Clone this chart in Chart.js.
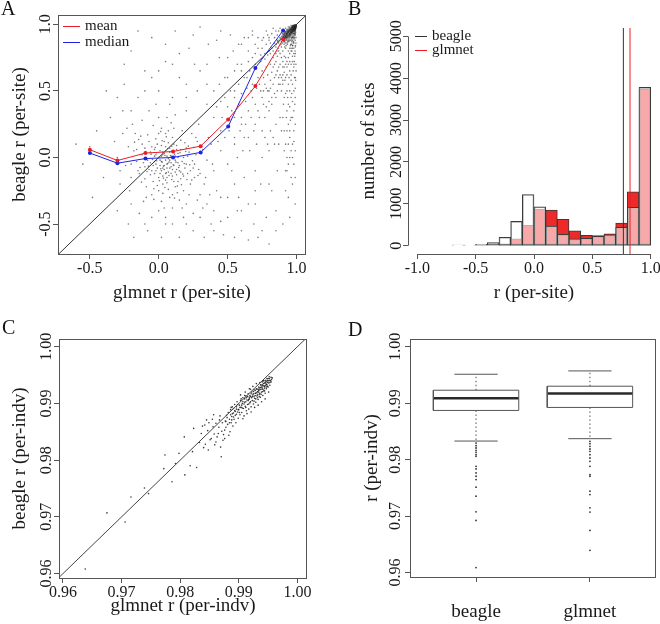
<!DOCTYPE html>
<html><head><meta charset="utf-8">
<script src="https://cdn.jsdelivr.net/npm/chart.js@4.4.0/dist/chart.umd.min.js"></script>
<style>
html,body{margin:0;padding:0;background:#fff;}
#wrap{position:relative;width:660px;height:624px;overflow:hidden;background:#fff;}
.panel{position:absolute;width:330px;height:312px;}
.panel canvas{display:block;}
.lab{position:absolute;font-family:"Liberation Serif","Times New Roman",serif;font-size:20px;line-height:20px;color:#111;}
</style></head><body>
<div id="wrap">
  <div class="panel" style="left:0;top:0"><canvas id="cA" width="330" height="312"></canvas></div>
  <div class="panel" style="left:330px;top:0"><canvas id="cB" width="330" height="312"></canvas></div>
  <div class="panel" style="left:0;top:312px"><canvas id="cC" width="330" height="312"></canvas></div>
  <div class="panel" style="left:330px;top:312px"><canvas id="cD" width="330" height="312"></canvas></div>
  <div class="lab" style="left:1px;top:-2px">A</div>
  <div class="lab" style="left:348px;top:-2px">B</div>
  <div class="lab" style="left:2px;top:317px">C</div>
  <div class="lab" style="left:348px;top:319px">D</div>
</div>
<script>
// ---------------- Panel A: per-site r, glmnet vs beagle ----------------
const perSiteBinX    = [-0.499, -0.299, -0.096, 0.104, 0.304, 0.504, 0.701, 0.902];
const perSiteMean    = [0.058, -0.023, 0.033, 0.045, 0.085, 0.286, 0.536, 0.887];
const perSiteMedian  = [0.033, -0.043, -0.008, 0.000, 0.038, 0.233, 0.672, 0.953];
const perSiteTicks   = [-0.5, 0.0, 0.5, 1.0];
const perSiteLegend  = ['mean', 'median'];
// glmnet r, beagle r per site (sampled from the cloud)
const perSitePairs = [
[-0.02,-0.05],[0.03,0.02],[0.08,-0.08],[-0.06,0.04],[0.12,-0.02],[0.01,-0.12],[-0.1,-0.07],[0.05,0.08],[0.15,-0.1],[-0.04,-0.18],
[0.1,0.05],[0.18,0.0],[-0.12,0.02],[0.06,-0.15],[0.0,0.0],[0.02,-0.03],[0.07,-0.01],[-0.03,0.06],[0.11,-0.06],[0.04,-0.09],
[-0.08,-0.02],[0.14,0.03],[0.09,-0.12],[-0.01,0.1],[0.2,-0.05],[-0.15,-0.1],[0.03,-0.2],[0.13,0.09],[0.22,0.04],[-0.07,0.12],
[0.16,-0.16],[0.25,-0.08],[-0.18,0.05],[0.0,-0.25],[0.1,0.15],[0.19,0.11],[-0.05,-0.28],[0.27,0.02],[0.12,-0.22],[-0.2,-0.15],
[0.05,0.18],[0.3,-0.12],[-0.13,0.16],[0.23,-0.2],[0.08,-0.3],[-0.09,-0.22],[0.17,0.2],[-0.22,0.08],[0.32,0.06],[0.02,0.22],
[0.06,-0.05],[0.04,0.03],[-0.01,-0.08],[0.09,0.01],[0.03,-0.14],[-0.05,-0.1],[0.13,-0.13],[0.07,0.11],[-0.1,0.07],[0.16,0.06],
[0.11,-0.18],[0.01,0.05],[-0.03,-0.03],[0.05,-0.02],[0.08,0.04],[0.1,-0.09],[-0.06,-0.13],[0.14,-0.04],[0.02,-0.1],[-0.02,0.14],
[0.21,-0.12],[0.18,-0.25],[0.26,-0.15],[0.28,0.12],[-0.16,-0.03],[-0.24,-0.06],[0.35,-0.02],[0.33,-0.2],[0.24,0.18],[0.15,-0.32],
[-0.11,-0.33],[0.04,-0.38],[0.2,-0.35],[-0.26,0.18],[-0.19,0.25],[0.0,0.3],[0.09,0.26],[0.38,0.1],[0.4,-0.1],[0.37,-0.28],
[-0.28,-0.2],[-0.3,0.0],[0.12,0.32],[0.29,0.25],[0.45,0.05],[0.05,-0.45],[-0.14,-0.42],[0.25,-0.42],[0.42,-0.25],[-0.07,0.35],
[0.035,-0.065],[0.075,-0.035],[-0.045,-0.015],[0.115,0.025],[0.055,-0.115],[-0.015,0.035],[0.145,-0.075],[0.095,-0.165],[-0.085,-0.105],[0.025,0.125],
[0.185,-0.045],[0.065,0.065],[-0.035,-0.235],[0.135,-0.265],[0.215,0.085],[-0.125,-0.185],[0.245,-0.025],[0.005,-0.175],[0.165,-0.205],[-0.175,0.115],
[0.01,-0.02],[0.04,-0.06],[0.06,0.01],[-0.02,0.02],[0.09,-0.04],[0.03,-0.08],[-0.04,-0.06],[0.07,-0.11],[0.12,0.01],[0.0,-0.15],
[0.05,0.05],[-0.07,-0.09],[0.1,-0.14],[0.15,-0.06],[0.02,0.09],[-0.09,0.0],[0.13,-0.09],[0.06,-0.19],[-0.03,-0.12],[0.17,-0.03],
[0.08,0.07],[-0.11,-0.04],[0.04,0.12],[0.19,-0.08],[-0.01,-0.21],[0.11,0.1],[0.14,-0.18],[-0.05,0.08],[0.21,0.01],[0.07,-0.24],
[-0.14,-0.12],[0.16,0.13],[0.23,-0.1],[-0.08,0.17],[0.03,-0.27],[0.18,-0.14],[-0.16,0.06],[0.26,-0.05],[0.1,-0.28],[0.0,0.18],
[0.09,-0.07],[0.05,-0.12],[0.02,0.01],[-0.02,-0.1],[0.12,-0.11],[0.08,-0.02],[-0.06,-0.04],[0.14,0.0],[0.03,0.04],[0.06,-0.08],
[0.11,0.04],[-0.03,0.01],[0.01,-0.06],[0.16,-0.11],[0.05,-0.17],[-0.1,-0.16],[0.2,0.07],[0.13,0.06],[-0.12,0.1],[0.24,-0.17],
[0.29,-0.09],[0.31,0.03],[0.22,-0.28],[0.07,0.2],[-0.2,-0.05],[-0.17,0.18],[0.27,0.15],[0.34,-0.15],[-0.04,0.24],[0.17,-0.38],
[-0.21,-0.25],[0.36,0.15],[0.11,0.22],[0.39,-0.05],[0.02,-0.33],[-0.09,-0.3],[0.28,-0.32],[-0.23,0.22],[0.43,0.12],[0.06,0.3],
[0.065,-0.045],[0.025,-0.035],[0.085,0.015],[-0.015,-0.025],[0.105,-0.055],[0.045,0.015],[-0.055,0.025],[0.125,-0.035],[0.015,-0.085],[0.075,-0.135],
[0.155,0.035],[-0.025,0.075],[0.035,-0.155],[0.095,0.085],[0.175,-0.125],[-0.075,-0.065],[0.195,0.045],[-0.095,0.045],[0.055,0.155],[0.135,-0.215],
[0.225,-0.055],[-0.135,-0.075],[0.255,0.075],[0.015,0.195],[0.045,-0.225],[0.205,-0.165],[-0.145,0.135],[0.285,-0.135],[0.115,-0.305],[-0.035,-0.315],
[-0.35,0.3],[-0.3,-0.4],[-0.25,0.55],[-0.22,-0.5],[-0.2,0.8],[-0.18,-0.6],[-0.15,0.45],[-0.1,0.65],[-0.08,-0.55],[-0.05,0.9],
[0.0,0.5],[0.02,-0.6],[0.05,0.72],[0.08,0.4],[0.1,-0.5],[0.12,0.95],[0.15,0.6],[0.18,-0.45],[0.2,0.35],[0.22,0.82],
[0.25,-0.55],[0.28,0.5],[0.3,0.98],[0.32,-0.38],[0.35,0.7],[0.38,-0.5],[0.4,0.3],[0.42,0.88],[0.45,-0.3],[0.48,0.6],
[0.5,-0.45],[0.52,0.92],[0.55,-0.2],[0.58,0.4],[0.6,-0.55],[0.62,0.15],[0.65,-0.35],[0.68,0.95],[0.7,-0.1],[0.72,-0.6],
[0.75,0.2],[0.78,-0.45],[0.8,0.05],[0.82,-0.25],[0.85,-0.55],[0.88,0.3],[-0.32,0.12],[-0.28,-0.1],[-0.26,0.35],[-0.4,-0.15],
[-0.45,0.2],[-0.5,0.08],[-0.55,-0.05],[-0.48,-0.3],[-0.38,0.5],[-0.6,0.1],[-0.12,0.28],[0.35,0.4],[0.45,0.2],[0.5,-0.05],
[0.55,0.1],[0.6,0.3],[0.62,-0.15],[0.4,-0.4],[0.3,-0.28],[0.48,0.15],[0.58,-0.3],[0.66,0.05],[0.7,0.25],[0.74,-0.2],
[0.76,0.5],[0.8,0.35],[0.84,0.1],[0.86,-0.1],[0.2,0.55],[0.1,0.45],[-0.02,0.4],[0.26,0.7],[0.36,0.85],[0.44,0.75],
[0.54,0.8],[0.64,0.6],[0.05,-0.5],[0.15,-0.6],[0.33,-0.6],[0.47,-0.58],[0.57,-0.4],[0.69,-0.5],[0.8,-0.65],[-0.05,-0.45],
[-0.25,0.7],[-0.15,0.95],[-0.05,0.6],[0.05,0.85],[0.15,0.78],[0.25,0.92],[0.35,0.55],[0.45,0.95],[0.55,0.5],[0.65,0.9],
[-0.3,0.45],[-0.2,0.35],[-0.1,0.5],[0.0,0.65],[0.1,0.7],[0.2,0.45],[0.3,0.65],[0.4,0.5],[0.5,0.75],[0.6,0.85],
[-0.2,-0.35],[-0.1,-0.5],[0.0,-0.4],[0.1,-0.38],[0.2,-0.5],[0.3,-0.45],[0.4,-0.55],[0.5,-0.3],[0.6,-0.4],[0.7,-0.35],
[0.75,-0.55],[0.65,-0.62],[0.55,-0.6],[0.45,-0.48],[0.35,-0.35],[0.85,-0.4],[0.9,-0.5],[0.95,-0.45],[0.8,-0.2],[0.7,-0.25],
[0.45,0.42],[0.5,0.38],[0.52,0.5],[0.55,0.45],[0.58,0.55],[0.6,0.48],[0.62,0.6],[0.64,0.52],[0.66,0.65],[0.68,0.55],
[0.7,0.7],[0.72,0.6],[0.74,0.72],[0.75,0.65],[0.77,0.78],[0.78,0.68],[0.8,0.8],[0.81,0.7],[0.82,0.82],[0.83,0.75],
[0.84,0.86],[0.85,0.78],[0.86,0.88],[0.87,0.8],[0.88,0.9],[0.89,0.83],[0.6,0.7],[0.65,0.8],[0.7,0.85],[0.72,0.9],
[0.75,0.88],[0.78,0.95],[0.8,0.9],[0.55,0.65],[0.5,0.6],[0.62,0.9],[0.58,0.85],[0.68,0.92],[0.7,0.4],[0.72,0.35],
[0.75,0.45],[0.77,0.3],[0.8,0.5],[0.82,0.4],[0.84,0.6],[0.85,0.45],[0.86,0.65],[0.87,0.55],[0.88,0.7],[0.89,0.5],
[0.65,0.35],[0.6,0.25],[0.55,0.3],[0.68,0.45],[0.73,0.55],[0.76,0.6],[0.79,0.62],[0.81,0.58],[0.83,0.68],[0.85,0.72],
[0.86,0.76],[0.87,0.68],[0.88,0.78],[0.89,0.75],[0.9,0.8],[0.63,0.42],[0.67,0.5],[0.71,0.52],[0.74,0.5],[0.78,0.52],
[0.82,0.64],[0.84,0.7],[0.88,0.62],[0.9,0.68],[0.9,0.72],[0.91,0.76],[0.57,0.7],[0.53,0.35],[0.48,0.45],[0.46,0.3],
[0.44,0.55],[0.42,0.38],
[0.95,0.78],[0.94,0.75],[0.93,0.72],[0.92,0.7],[0.91,0.64],[0.9,0.58],[0.89,0.6],[0.88,0.55],[0.87,0.6],[0.86,0.5],
[0.85,0.62],[0.84,0.48],[0.83,0.55],[0.82,0.45],[0.81,0.52],[0.8,0.42],[0.79,0.5],[0.78,0.38],[0.77,0.55],[0.76,0.4],
[0.96,0.45],[0.95,0.2],[0.94,0.1],[0.93,0.0],[0.92,-0.1],[0.97,0.0],[0.98,0.12],[0.99,-0.15],[0.96,0.05],[0.94,-0.05],
[0.89,0.2],[0.87,0.1],[0.85,0.25],[0.83,0.15],[0.81,0.2],[0.79,0.1],[0.77,0.15],[0.75,0.0],[0.73,0.3],[0.71,0.1],
[0.69,0.2],[0.67,0.3],[0.65,0.15],[0.63,0.25],[0.61,0.05],[0.59,0.2],[0.57,0.0],[0.55,0.15],[0.53,-0.1],[0.51,0.2],
[0.92,0.6],[0.93,0.5],[0.94,0.4],[0.95,0.65],[0.96,0.3],[0.97,0.55],[0.98,0.2],[0.99,0.45],[0.92,0.1],[0.93,-0.1],
[0.94,0.25],[0.95,0.0],[0.96,0.7],[0.97,-0.2],[0.98,0.35],[0.99,0.6],[0.92,0.75],[0.93,0.68],[0.94,0.8],[0.95,0.72],
[0.96,0.82],[0.97,0.76],[0.98,0.68],[0.99,0.78],[0.91,0.45],[0.9,0.3],[0.91,0.2],[0.9,0.55],[0.93,0.35],[0.95,0.15],
[0.97,0.1],[0.99,0.05],[0.98,-0.05],[0.96,-0.15],[0.94,-0.3],[0.92,-0.25],[0.99,-0.35],[0.97,0.42],[0.95,0.5],[0.93,0.62],
[0.91,0.68],[0.98,0.5],[0.96,0.58],[0.94,0.55],[0.92,0.48],[0.99,0.25],[0.97,0.3],[0.95,0.38],[0.93,0.2],[0.91,0.05],
[0.98,0.82],[0.96,0.85],[0.94,0.7],[0.92,0.82],[0.9,0.62],[0.995,0.7],[0.985,0.6],[0.975,0.65],[0.965,0.48],[0.955,0.28],
[0.945,0.6],[0.935,0.45],[0.925,0.3],[0.915,0.58],[0.905,0.4],
[0.99,0.99],[0.985,0.98],[0.98,0.985],[0.975,0.97],[0.97,0.975],[0.965,0.96],[0.96,0.965],[0.955,0.95],[0.95,0.955],[0.945,0.94],
[0.94,0.945],[0.935,0.93],[0.93,0.925],[0.925,0.93],[0.92,0.91],[0.915,0.92],[0.91,0.9],[0.905,0.91],[0.9,0.89],[0.895,0.9],
[0.99,0.97],[0.985,0.96],[0.98,0.95],[0.975,0.945],[0.97,0.94],[0.965,0.93],[0.96,0.92],[0.955,0.915],[0.95,0.9],[0.945,0.89],
[0.94,0.88],[0.935,0.87],[0.93,0.86],[0.99,0.95],[0.985,0.93],[0.98,0.91],[0.975,0.9],[0.97,0.88],[0.965,0.87],[0.96,0.85],
[0.955,0.84],[0.95,0.82],[0.992,0.99],[0.988,0.975],[0.983,0.99],[0.978,0.98],[0.972,0.985],[0.968,0.955],[0.962,0.975],[0.957,0.94],
[0.952,0.965],[0.947,0.925],[0.942,0.955],[0.937,0.91],[0.932,0.945],[0.927,0.9],[0.922,0.94],[0.917,0.88],[0.912,0.93],[0.907,0.87],
[0.902,0.92],[0.897,0.86],[0.892,0.91],[0.887,0.85],[0.882,0.89],[0.877,0.84],[0.872,0.88],[0.867,0.82],[0.862,0.87],[0.857,0.8],
[0.852,0.85],[0.994,0.985],[0.991,0.98],[0.987,0.99],[0.982,0.975],[0.979,0.965],[0.974,0.98],[0.971,0.96],[0.966,0.97],[0.963,0.95],
[0.958,0.96],[0.953,0.935],[0.948,0.95],[0.943,0.92],[0.938,0.94],[0.933,0.9],[0.928,0.92],[0.923,0.89],[0.918,0.905],[0.913,0.87],
[0.908,0.89],[0.996,0.995],[0.993,0.975],[0.989,0.965],[0.984,0.97],[0.981,0.96],[0.976,0.955],[0.973,0.93],[0.969,0.965],[0.964,0.94],
[0.959,0.905],[0.954,0.925],[0.949,0.91],[0.944,0.87],[0.939,0.9],[0.934,0.85],[0.929,0.88],[0.924,0.84],[0.919,0.86],[0.914,0.83],
[0.909,0.85],[0.8,0.88],[0.82,0.93],[0.85,0.95],[0.88,0.97],[0.9,0.96],[0.86,0.92],[0.84,0.9],[0.78,0.85],[0.75,0.82],
[0.83,0.97],[0.87,0.95],[0.89,0.94],[0.92,0.97],[0.94,0.98],[0.96,0.99],[0.91,0.95],[0.93,0.96],[0.95,0.98],[0.97,0.99],
[0.98,0.995],[0.7,0.78],[0.72,0.82],[0.76,0.9],[0.79,0.92],[0.81,0.86],[0.65,0.72],[0.68,0.75],[0.6,0.65],[0.74,0.77],
[0.77,0.74],[0.79,0.77],[0.81,0.78],[0.83,0.8],[0.85,0.83],[0.87,0.86],[0.89,0.87],[0.91,0.88],[0.93,0.89],[0.95,0.88],
[0.97,0.9],[0.99,0.92],[0.99,0.88],[0.98,0.86],[0.97,0.84],[0.96,0.8],[0.99,0.83],[0.98,0.78],[0.97,0.72],[0.96,0.62],
[0.995,0.9],[0.986,0.972],[0.977,0.962],[0.968,0.948],[0.959,0.938],[0.951,0.928],[0.942,0.912],[0.933,0.915],[0.924,0.905],[0.915,0.895],
[0.997,0.993],[0.995,0.988],[0.993,0.982],[0.991,0.994],[0.989,0.985],[0.987,0.978],[0.985,0.99],[0.983,0.97],[0.981,0.983],[0.979,0.975],
[0.977,0.988],[0.975,0.96],[0.973,0.978],[0.971,0.95],[0.969,0.97],[0.967,0.945],[0.965,0.98],[0.963,0.935],[0.961,0.955],[0.959,0.97],
[0.957,0.925],[0.955,0.962],[0.953,0.945],[0.951,0.972],[0.949,0.93],[0.947,0.96],[0.945,0.915],[0.943,0.95],[0.941,0.935],[0.939,0.965],
[0.937,0.925],[0.935,0.955],[0.933,0.94],[0.931,0.91],[0.929,0.935],[0.927,0.95],[0.925,0.915],[0.923,0.93],[0.921,0.9],[0.919,0.945],
[0.917,0.91],[0.915,0.935],[0.913,0.895],[0.911,0.92],[0.909,0.94],[0.907,0.9],[0.905,0.925],[0.903,0.885],[0.901,0.91],[0.899,0.93],
[0.996,0.98],[0.994,0.97],[0.992,0.96],[0.99,0.975],[0.988,0.955],[0.986,0.945],[0.984,0.985],[0.982,0.94],[0.98,0.965],[0.978,0.93],
[0.976,0.985],[0.974,0.92],[0.972,0.955],[0.97,0.91],[0.968,0.98],[0.966,0.9],[0.964,0.96],[0.962,0.89],[0.96,0.94],[0.958,0.88],
[0.998,0.997],[0.997,0.985],[0.995,0.975],[0.993,0.99],[0.99,0.96],[0.988,0.995],[0.986,0.965],[0.983,0.955],[0.98,0.975],[0.977,0.95],
[0.993,0.94],[0.99,0.93],[0.987,0.92],[0.984,0.9],[0.981,0.89],[0.978,0.87],[0.975,0.86],[0.972,0.84],[0.969,0.82],[0.966,0.8],
[0.995,0.86],[0.992,0.84],[0.989,0.8],[0.986,0.76],[0.983,0.72],[0.98,0.7],[0.996,0.65],[0.993,0.58],[0.99,0.52],[0.987,0.4]
];

// ---------------- Panel B: histogram of per-site r ----------------
const histBinCenters = [-0.65,-0.55,-0.45,-0.35,-0.25,-0.15,-0.05,0.05,0.15,0.25,0.35,0.45,0.55,0.65,0.75,0.85,0.95];
const histBeagle     = [8, 15, 30, 70, 200, 580, 1222, 929, 468, 270, 160, 177, 225, 256, 440, 918, 3780];
const histGlmnet     = [null, null, null, null, 8, 160, 484, 873, 849, 627, 352, 249, 240, 280, 536, 1285, 3742];
const histXTicks     = [-1.0, -0.5, 0.0, 0.5, 1.0];
const histYTicks     = [0, 1000, 2000, 3000, 4000, 5000];
const histSeries     = ['beagle', 'glmnet'];
const histRefLines   = [0.766, 0.823];   // vertical lines: beagle, glmnet

// ---------------- Panel C: per-individual r ----------------
const perIndvTicks = [0.96, 0.97, 0.98, 0.99, 1.00];
// glmnet r, beagle r per individual
const perIndvPairs = [
[0.9638,0.9608],[0.9675,0.9707],[0.9706,0.9691],[0.9716,0.9735],[0.9739,0.9751],[0.9746,0.9741],[0.9772,0.9785],[0.9774,0.9809],
[0.9786,0.9762],[0.9792,0.9794],[0.9798,0.9812],[0.9807,0.9841],[0.9808,0.9774],[0.9817,0.9790],[0.9821,0.9815],[0.9823,0.9856],
[0.9828,0.9787],[0.9833,0.9831],[0.9836,0.9847],[0.9840,0.9822],[0.9845,0.9871],[0.9848,0.9818],[0.9853,0.9838],[0.9856,0.9859],
[0.9859,0.9827],[0.9865,0.9847],[0.9867,0.9871],[0.9870,0.9806],[0.9873,0.9835],[0.9876,0.9853],[0.9879,0.9879],
[0.9842,0.9862],[0.9847,0.9852],[0.9851,0.9836],[0.9855,0.9872],[0.9858,0.9846],[0.9861,0.9865],[0.9863,0.9841],[0.9866,0.9858],
[0.9868,0.9878],[0.9871,0.9851],[0.9872,0.9866],[0.9874,0.9845],[0.9877,0.9869],[0.9878,0.9858],[0.9881,0.9863],[0.9882,0.9884],
[0.9884,0.9872],[0.9885,0.9850],[0.9886,0.9889],[0.9887,0.9866],[0.9888,0.9877],[0.9889,0.9894],[0.9890,0.9860],[0.9891,0.9883],
[0.9892,0.9872],[0.9893,0.9898],[0.9894,0.9879],[0.9895,0.9866],[0.9896,0.9890],[0.9897,0.9903],[0.9898,0.9885],[0.9899,0.9874],
[0.9861,0.9832],[0.9869,0.9823],[0.9876,0.9838],[0.9883,0.9844],[0.9857,0.9880],[0.9849,0.9866],[0.9843,0.9828],[0.9838,0.9860],
[0.9900,0.9889],[0.9901,0.9897],[0.9902,0.9880],[0.9903,0.9905],[0.9904,0.9893],[0.9905,0.9884],[0.9906,0.9900],[0.9907,0.9910],
[0.9908,0.9891],[0.9909,0.9878],[0.9910,0.9902],[0.9911,0.9895],[0.9912,0.9913],[0.9913,0.9887],[0.9914,0.9906],[0.9915,0.9898],
[0.9916,0.9917],[0.9917,0.9890],[0.9918,0.9908],[0.9919,0.9901],[0.9920,0.9912],[0.9921,0.9894],[0.9922,0.9920],[0.9923,0.9905],
[0.9924,0.9915],[0.9925,0.9899],[0.9926,0.9924],[0.9927,0.9909],[0.9928,0.9918],[0.9929,0.9902],[0.9930,0.9926],[0.9931,0.9913],
[0.9932,0.9921],[0.9933,0.9907],[0.9934,0.9929],[0.9935,0.9916],[0.9936,0.9924],[0.9937,0.9911],[0.9938,0.9932],[0.9939,0.9920],
[0.9940,0.9927],[0.9941,0.9914],[0.9942,0.9935],[0.9943,0.9923],[0.9944,0.9930],[0.9945,0.9918],[0.9946,0.9938],[0.9947,0.9926],
[0.9948,0.9933],[0.9949,0.9941],[0.9950,0.9929],[0.9951,0.9936],[0.9952,0.9944],[0.9953,0.9932],[0.9954,0.9940],[0.9955,0.9946],
[0.9903,0.9915],[0.9907,0.9873],[0.9911,0.9920],[0.9914,0.9882],[0.9918,0.9926],[0.9921,0.9885],[0.9924,0.9930],[0.9927,0.9893],
[0.9930,0.9935],[0.9933,0.9897],[0.9936,0.9937],[0.9939,0.9903],[0.9942,0.9940],[0.9945,0.9908],[0.9948,0.9944],[0.9951,0.9920],
[0.9926,0.9912],[0.9929,0.9918],[0.9932,0.9915],[0.9935,0.9927],[0.9938,0.9925],[0.9941,0.9931],[0.9944,0.9936],[0.9947,0.9934],
[0.9922,0.9910],[0.9919,0.9914],[0.9916,0.9905],[0.9913,0.9910],[0.9910,0.9908],[0.9925,0.9921],[0.9928,0.9923],[0.9931,0.9925],
[0.9934,0.9920],[0.9937,0.9928],[0.9940,0.9933],[0.9943,0.9931],[0.9946,0.9941],[0.9949,0.9937],[0.9952,0.9947],[0.9956,0.9942],
[0.9920,0.9925],[0.9917,0.9899],[0.9912,0.9893],[0.9909,0.9899],[0.9906,0.9892],[0.9904,0.9908],[0.9901,0.9884],[0.9898,0.9898],
[0.9896,0.9881],[0.9893,0.9887],[0.9891,0.9876],[0.9889,0.9882],[0.9887,0.9893],
[0.9931,0.9919],[0.9934,0.9923],[0.9936,0.9918],[0.9939,0.9929],[0.9941,0.9925],[0.9944,0.9927],[0.9946,0.9932],[0.9949,0.9930],[0.9951,0.9940],[0.9953,0.9937],
[0.9928,0.9914],[0.9925,0.9917],[0.9923,0.9912],[0.9921,0.9917],[0.9918,0.9911],[0.9915,0.9912],[0.9912,0.9903],[0.9910,0.9914],[0.9907,0.9903],[0.9905,0.9897],
[0.9933,0.9925],[0.9937,0.9933],[0.9940,0.9938],[0.9943,0.9940],[0.9945,0.9936],[0.9948,0.9939],[0.9950,0.9944],[0.9953,0.9941],[0.9955,0.9938],[0.9957,0.9945],
[0.9926,0.9904],[0.9929,0.9908],[0.9932,0.9910],[0.9935,0.9912],[0.9938,0.9916],[0.9941,0.9921],[0.9944,0.9922],[0.9947,0.9929],[0.9920,0.9903],[0.9917,0.9907],
[0.9902,0.9893],[0.9899,0.9889],[0.9896,0.9894],[0.9894,0.9886],[0.9891,0.9891],[0.9888,0.9871],[0.9886,0.9880],[0.9884,0.9866],[0.9880,0.9875],[0.9878,0.9868]
];

// ---------------- Panel D: boxplots of per-individual r ----------------
const boxGroups       = ['beagle', 'glmnet'];
const boxWhiskerLow   = [0.98329, 0.98371];
const boxQ1           = [0.98871, 0.98924];
const boxMedian       = [0.99088, 0.99171];
const boxQ3           = [0.99229, 0.99300];
const boxWhiskerHigh  = [0.99512, 0.99571];
const boxOutliers     = [
  [0.98294,0.98247,0.98206,0.98165,0.98129,0.98088,0.98059,0.97882,0.97835,0.97765,0.97706,0.97647,0.97512,0.97353,0.97076,0.96924,0.96088],
  [0.98324,0.98282,0.98235,0.98188,0.98147,0.98088,0.98029,0.97971,0.97882,0.97735,0.97706,0.97441,0.97382,0.97147,0.97071,0.96747,0.96394]
];

// ---------------- shared styling ----------------
const SERIF = "'Liberation Serif','Times New Roman',serif";
const INK = '#1a1a1a';
const AXIS = '#555';
const RED = 'rgb(232,30,36)';
const BLUE = 'rgb(30,34,226)';
Chart.defaults.font.family = SERIF;
Chart.defaults.color = INK;
Chart.defaults.animation = false;
Chart.defaults.events = [];
Chart.defaults.plugins.legend.display = false;
Chart.defaults.plugins.tooltip.enabled = false;

const fmt1 = v => v.toFixed(1);
const fmt2 = v => v.toFixed(2);

function fixedTicks(vals) { return s => { s.ticks = vals.map(v => ({ value: v })); }; }
function fitY(w) { return s => { s.width = w; s.paddingTop = 0; s.paddingBottom = 0; s.paddingLeft = 0; s.paddingRight = 0; }; }
function fitX(h) { return s => { s.height = h; s.paddingTop = 0; s.paddingBottom = 0; s.paddingLeft = 0; s.paddingRight = 0; }; }

function xAxis(o) {
  return {
    type: 'linear', position: 'bottom', min: o.min, max: o.max, offset: false,
    afterBuildTicks: fixedTicks(o.ticks), afterFit: fitX(o.h),
    grid: { display: true, drawOnChartArea: false, drawTicks: true, tickLength: 5, color: AXIS, offset: false },
    border: { display: false },
    ticks: { display: true, autoSkip: false, maxRotation: 0, minRotation: 0, padding: o.pad || 0,
             font: { size: o.fs || 16, lineHeight: 1.2 }, color: INK, callback: o.cb },
    title: o.title ? { display: true, text: o.title, font: { size: 19, lineHeight: 1.2 }, color: INK,
             padding: { top: 0, bottom: o.tpad } } : { display: false }
  };
}
function yAxis(o) {
  return {
    type: 'linear', position: 'left', min: o.min, max: o.max,
    afterBuildTicks: fixedTicks(o.ticks), afterFit: fitY(o.w),
    grid: { display: true, drawOnChartArea: false, drawTicks: true, tickLength: 5, color: AXIS },
    border: { display: false },
    ticks: { display: false },
    title: { display: true, text: o.title, font: { size: 19, lineHeight: 1.2 }, color: INK,
             padding: { top: o.tpad, bottom: 0 } }
  };
}

// R-like decorations: frame, partial axis lines, rotated y tick labels, legend (config kept in closure)
function rStyle(cfg) {
  return {
    id: 'rStyle',
    afterDraw(chart) {
      const { ctx, chartArea: ca, scales } = chart;
      ctx.save();
      ctx.strokeStyle = AXIS; ctx.lineWidth = 1;
      if (cfg.frame) {
        ctx.strokeRect(Math.round(ca.left) + 0.5, Math.round(ca.top) + 0.5,
                       Math.round(ca.right - ca.left) - 1, Math.round(ca.bottom - ca.top));
      }
      if (cfg.axisLines) {
        const xs = scales.x, ys = scales.y, xt = xs.ticks, yt = ys.ticks;
        const by = Math.round(ca.bottom) + 0.5, lx = Math.round(ca.left) + 0.5;
        ctx.beginPath();
        ctx.moveTo(xs.getPixelForValue(xt[0].value), by);
        ctx.lineTo(xs.getPixelForValue(xt[xt.length - 1].value), by);
        ctx.moveTo(lx, ys.getPixelForValue(yt[0].value));
        ctx.lineTo(lx, ys.getPixelForValue(yt[yt.length - 1].value));
        ctx.stroke();
      }
      const ys = scales.y;
      ctx.fillStyle = INK;
      ctx.font = `16px ${SERIF}`;
      ctx.textAlign = 'center'; ctx.textBaseline = 'middle';
      ys.ticks.forEach(t => {
        ctx.save();
        ctx.translate(cfg.yLabelX, ys.getPixelForValue(t.value));
        ctx.rotate(-Math.PI / 2);
        ctx.fillText(cfg.yfmt(t.value), 0, 0);
        ctx.restore();
      });
      if (cfg.legend) {
        const L = cfg.legend;
        ctx.font = `${L.size}px ${SERIF}`;
        ctx.textAlign = 'left'; ctx.textBaseline = 'middle';
        L.labels.forEach((lab, i) => {
          const y = Math.round(L.y0 + i * L.dy) + 0.5;
          ctx.strokeStyle = L.colors[i]; ctx.lineWidth = 1;
          ctx.beginPath(); ctx.moveTo(L.x0, y); ctx.lineTo(L.x1, y); ctx.stroke();
          ctx.fillStyle = INK;
          ctx.fillText(lab, L.tx, y);
        });
      }
      ctx.restore();
    }
  };
}

const lineDs = (data, color, w, extra) => Object.assign({
  data, showLine: true, borderColor: color, borderWidth: w, pointRadius: 0, fill: false, tension: 0
}, extra || {});

// ---------------- Chart A ----------------
{
  const xMin = -0.73, xMax = 1.068, yMin = -0.725, yMax = 1.07;
  new Chart(document.getElementById('cA'), {
    type: 'scatter',
    data: { datasets: [
      { data: perSitePairs.map(p => ({ x: p[0], y: p[1] })), pointRadius: 0.8, pointBorderWidth: 0,
        pointBackgroundColor: 'rgba(30,30,30,0.6)', order: 4 },
      lineDs([{ x: -1, y: -1 }, { x: 1.1, y: 1.1 }], '#333', 1, { order: 3 }),
      lineDs(perSiteBinX.map((x, i) => ({ x, y: perSiteMean[i] })), RED, 1,
        { pointRadius: 2, pointBackgroundColor: RED, pointBorderWidth: 0, order: 1 }),
      lineDs(perSiteBinX.map((x, i) => ({ x, y: perSiteMedian[i] })), BLUE, 1,
        { pointRadius: 2, pointBackgroundColor: BLUE, pointBorderWidth: 0, order: 2 })
    ]},
    options: {
      responsive: false,
      layout: { padding: { left: 0, top: 15, right: 24, bottom: 0 } },
      scales: {
        x: xAxis({ min: xMin, max: xMax, ticks: perSiteTicks, h: 58, cb: v => fmt1(v), title: 'glmnet r (per-site)', tpad: 8 }),
        y: yAxis({ min: yMin, max: yMax, ticks: perSiteTicks, w: 58, title: 'beagle r (per-site)', tpad: 9 })
      }
    },
    plugins: [rStyle({ frame: true, yLabelX: 46, yfmt: fmt1,
      legend: { labels: perSiteLegend, colors: [RED, BLUE], x0: 63, x1: 80, tx: 85, y0: 26, dy: 16, size: 15 } })]
  });
}

// ---------------- Chart B ----------------
{
  new Chart(document.getElementById('cB'), {
    type: 'bar',
    data: { datasets: [
      { type: 'bar', label: histSeries[0], data: histBinCenters.map((x, i) => ({ x, y: histBeagle[i] })),
        backgroundColor: 'rgba(255,255,255,0.6)', borderColor: '#3a3a3a', borderWidth: 1, borderSkipped: false,
        grouped: false, barPercentage: 1, categoryPercentage: 1, order: 1 },
      { type: 'bar', label: histSeries[1], data: histBinCenters.map((x, i) => ({ x, y: histGlmnet[i] })),
        backgroundColor: 'rgb(236,42,42)', borderColor: '#3a3a3a', borderWidth: 1, borderSkipped: false,
        grouped: false, barPercentage: 1, categoryPercentage: 1, order: 2 },
      lineDs([{ x: histRefLines[0], y: -200 }, { x: histRefLines[0], y: 5200 }], '#333', 1, { type: 'line', order: 0 }),
      lineDs([{ x: histRefLines[1], y: -200 }, { x: histRefLines[1], y: 5200 }], RED, 1, { type: 'line', order: 0 })
    ]},
    options: {
      responsive: false,
      layout: { padding: { left: 0, top: 28, right: 0, bottom: 0 } },
      scales: {
        x: xAxis({ min: -1.08, max: 1.08, ticks: histXTicks, h: 58, cb: v => fmt1(v), title: 'r (per-site)', tpad: 8 }),
        y: Object.assign(yAxis({ min: -200, max: 5200, ticks: histYTicks, w: 78, title: 'number of sites', tpad: 28 }), { beginAtZero: false })
      }
    },
    plugins: [rStyle({ frame: false, axisLines: true, yLabelX: 67, yfmt: v => String(v),
      legend: { labels: histSeries, colors: ['#333', RED], x0: 85, x1: 97, tx: 102, y0: 36, dy: 14, size: 15 } })]
  });
}

// ---------------- Chart C ----------------
{
  const xMin = 0.95932, xMax = 1.00164, yMin = 0.95922, yMax = 1.00136;
  new Chart(document.getElementById('cC'), {
    type: 'scatter',
    data: { datasets: [
      { data: perIndvPairs.map(p => ({ x: p[0], y: p[1] })), pointRadius: 0.8, pointBorderWidth: 0,
        pointBackgroundColor: 'rgba(20,20,20,0.85)', order: 2 },
      lineDs([{ x: 0.95, y: 0.95 }, { x: 1.01, y: 1.01 }], '#444', 1, { order: 1 })
    ]},
    options: {
      responsive: false,
      layout: { padding: { left: 0, top: 27, right: 23, bottom: 0 } },
      scales: {
        x: xAxis({ min: xMin, max: xMax, ticks: perIndvTicks, h: 46, cb: v => fmt2(v), title: 'glmnet r (per-indv)', tpad: 7 }),
        y: yAxis({ min: yMin, max: yMax, ticks: perIndvTicks, w: 59, title: 'beagle r (per-indv)', tpad: 9 })
      }
    },
    plugins: [rStyle({ frame: true, yLabelX: 47, yfmt: fmt2 })]
  });
}

// ---------------- Chart D ----------------
{
  const HALF = 0.375, CAP = 0.19;
  const ds = [];
  boxGroups.forEach((g, i) => {
    const c = i + 1;
    const dash = { borderDash: [1.5, 2.5] };
    ds.push(lineDs([{ x: c, y: boxQ3[i] }, { x: c, y: boxWhiskerHigh[i] }], '#555', 1, dash));
    ds.push(lineDs([{ x: c, y: boxQ1[i] }, { x: c, y: boxWhiskerLow[i] }], '#555', 1, dash));
    ds.push(lineDs([{ x: c - CAP, y: boxWhiskerHigh[i] }, { x: c + CAP, y: boxWhiskerHigh[i] }], '#555', 1));
    ds.push(lineDs([{ x: c - CAP, y: boxWhiskerLow[i] }, { x: c + CAP, y: boxWhiskerLow[i] }], '#555', 1));
    ds.push(lineDs([{ x: c - HALF, y: boxQ1[i] }, { x: c + HALF, y: boxQ1[i] }, { x: c + HALF, y: boxQ3[i] },
                    { x: c - HALF, y: boxQ3[i] }, { x: c - HALF, y: boxQ1[i] }], '#555', 1));
    ds.push(lineDs([{ x: c - HALF, y: boxMedian[i] }, { x: c + HALF, y: boxMedian[i] }], '#2a2a2a', 2.6));
    ds.push({ data: boxOutliers[i].map(v => ({ x: c, y: v })), pointRadius: 0.9, pointBorderWidth: 0,
              pointBackgroundColor: '#333' });
  });
  new Chart(document.getElementById('cD'), {
    type: 'scatter',
    data: { datasets: ds },
    options: {
      responsive: false,
      layout: { padding: { left: 0, top: 27, right: 2, bottom: 0 } },
      scales: {
        x: xAxis({ min: 0.42, max: 2.58, ticks: [1, 2], h: 47, fs: 19, pad: 19, cb: v => boxGroups[Math.round(v) - 1] }),
        y: yAxis({ min: 0.95922, max: 1.00136, ticks: perIndvTicks, w: 80, title: 'r (per-indv)', tpad: 31 })
      }
    },
    plugins: [rStyle({ frame: true, yLabelX: 66, yfmt: fmt2 })]
  });
}
</script>
</body></html>
